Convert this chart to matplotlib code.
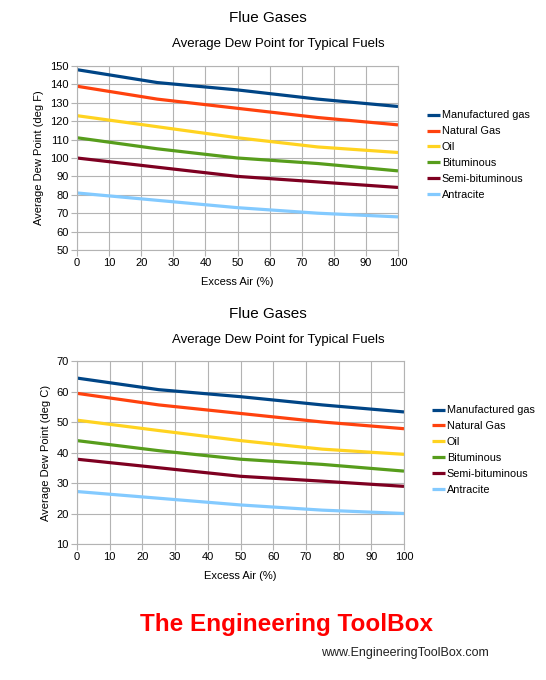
import matplotlib.pyplot as plt

excess_air = [0, 25, 50, 75, 100]
fuels = ['Manufactured gas', 'Natural Gas', 'Oil', 'Bituminous',
         'Semi-bituminous', 'Antracite']
colors = ['#004586', '#ff420e', '#ffd320', '#579d1c', '#7e0021', '#83caff']

dew_f = [
    [148, 141, 137, 132, 128],
    [139, 132, 127, 122, 118],
    [123, 117, 111, 106, 103],
    [111, 105, 100, 97, 93],
    [100, 95, 90, 87, 84],
    [81, 77, 73, 70, 68],
]
dew_c = [
    [64.4, 60.6, 58.3, 55.6, 53.3],
    [59.4, 55.6, 52.8, 50.0, 47.8],
    [50.6, 47.2, 43.9, 41.1, 39.4],
    [43.9, 40.6, 37.8, 36.1, 33.9],
    [37.8, 35.0, 32.2, 30.6, 28.9],
    [27.2, 25.0, 22.8, 21.1, 20.0],
]

plt.rcParams['font.family'] = ['Liberation Sans', 'DejaVu Sans']

W, H = 546, 680
fig = plt.figure(figsize=(W / 100, H / 100), dpi=100)


def panel(rect, data, ylim, unit, title_y, leg_xy):
    l, t, r, b = rect
    ax = fig.add_axes([l / W, 1 - b / H, (r - l) / W, (b - t) / H])
    for name, vals, c in zip(fuels, data, colors):
        ax.plot(excess_air, vals, color=c, lw=2.3, label=name,
                solid_capstyle='butt')
    ax.set_xlim(0, 100)
    ax.set_ylim(*ylim)
    ax.set_xticks(range(0, 101, 10))
    ax.set_yticks(range(ylim[0], ylim[1] + 1, 10))
    ax.grid(True, color='#b3b3b3', lw=0.8)
    ax.set_axisbelow(True)
    for s in ax.spines.values():
        s.set_color('#b3b3b3')
    ax.tick_params(colors='#b3b3b3', labelcolor='black', labelsize=8,
                   length=4, width=0.8, pad=2)
    ax.set_xlabel('Excess Air (%)', fontsize=8, labelpad=6)
    ax.set_ylabel('Average Dew Point (deg %s)' % unit, fontsize=8, labelpad=4)
    fig.text(268 / W, 1 - title_y / H, 'Flue Gases', ha='center',
             va='center', fontsize=11)
    fig.text(278 / W, 1 - (title_y + 26) / H,
             'Average Dew Point for Typical Fuels', ha='center',
             va='center', fontsize=9.5)
    ax.legend(loc='upper left', bbox_to_anchor=(leg_xy[0] / W, 1 - leg_xy[1] / H),
              bbox_transform=fig.transFigure, frameon=False, fontsize=7.8,
              handlelength=1.2, handletextpad=0.15, labelspacing=0.55,
              borderaxespad=0)
    return ax


panel((77, 66, 398, 250), dew_f, (50, 150), 'F', 18, (423, 106))
panel((77, 361, 404, 544), dew_c, (10, 70), 'C', 314, (428, 401))

fig.text(287 / W, 1 - 625 / H, 'The Engineering ToolBox', ha='center',
         va='center', fontsize=17.5, color='#ff0000', fontweight='bold')
fig.text(405 / W, 1 - 653 / H, 'www.EngineeringToolBox.com', ha='center',
         va='center', fontsize=9, color='#222222')

fig.savefig('out.png', dpi=100)
